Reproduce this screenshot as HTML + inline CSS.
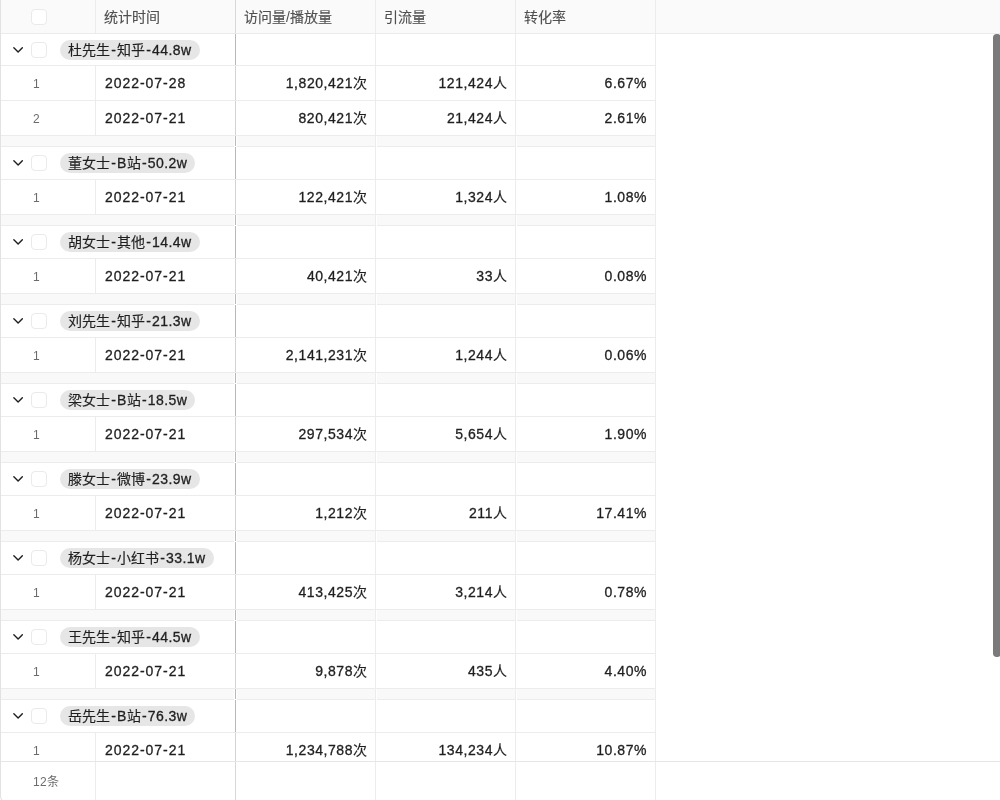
<!DOCTYPE html>
<html lang="zh-CN">
<head>
<meta charset="utf-8">
<title>数据统计</title>
<style>
*{box-sizing:border-box;margin:0;padding:0}
html,body{width:1000px;height:800px;overflow:hidden;background:#fff}
body{font-family:"Liberation Sans",sans-serif;font-size:14px;color:#1f1f1f;position:relative}
#grid{position:absolute;left:0;top:0;width:1000px;height:800px;overflow:hidden;background:#fff;will-change:transform}
.row{position:absolute;left:0;width:656px;border-bottom:1px solid #ececec;border-right:1px solid #ececec;background:#fff}
.grp{height:33px}
.dat{height:35px}
.sep{height:11px;background:#f9f9f9}
.c{position:absolute;top:0;bottom:0;border-left:1px solid #ececec}
.c1{left:95px;width:140px}
.c2{left:235px;width:140px}
.c3{left:375px;width:140px}
.c4{left:515px;width:140px}
.dat .c{line-height:34px;white-space:nowrap;-webkit-text-stroke:.3px #1f1f1f}
.dat .c1{padding-left:9px;letter-spacing:.95px}
.dat .c2,.dat .c3,.dat .c4{text-align:right;padding-right:8px;letter-spacing:.55px}
.u{display:inline-block;width:14px;text-align:center;letter-spacing:0;-webkit-text-stroke:.15px}
.n{position:absolute;left:33px;top:0;line-height:36px;font-size:12px;color:#6b6b6b}
.chev{position:absolute;left:12px;top:11px;width:12px;height:10px}
.cb{position:absolute;left:31px;width:16px;height:16px;border:1px solid #eaeaea;border-radius:4px;background:#fff}
.grp .cb{top:8px}
.pill{position:absolute;left:60px;top:6px;height:20px;border-radius:10px;background:#e6e6e6;line-height:20px;padding-left:8px;white-space:nowrap;overflow:hidden;letter-spacing:.45px;-webkit-text-stroke:.3px #1f1f1f}
.k{display:inline-block;text-align:center;letter-spacing:0;-webkit-text-stroke:.15px}
.h{display:inline-block;width:7px;text-align:center;letter-spacing:0}
.grp .c,.sep .c{border-left:1px solid #ececec}
.sep .c{bottom:-1px;box-shadow:inset 1px 0 0 #fff}
.sep .f{position:absolute;left:234px;top:0;bottom:-1px;width:3px;background:#fff}
#hdr{position:absolute;left:0;top:0;width:1000px;height:34px;background:#fafafa;border-bottom:1px solid #ebebeb;z-index:8;color:#505050}
#hdr .c{line-height:35px;padding-left:8px;white-space:nowrap}
#hdr .c5{left:655px;width:1px}
#hdr .cb{top:9px}
.fz{position:absolute;left:235px;top:0;bottom:0;width:1px;background:#d3d3d3;z-index:5}
.grp .fz,.sep .fz{background:#b9b9b9}
#hdr .fz,#ftr .fz{background:#d8d8d8}
#lb{position:absolute;left:0;top:-10px;width:40px;height:813px;border-left:1px solid #e2e2e2;border-bottom:1px solid #e2e2e2;border-bottom-left-radius:7px;z-index:9}
#ftr{position:absolute;left:0;top:761px;width:1000px;height:39px;background:#fff;border-top:1px solid #e6e6e6;z-index:8}
#ftr .c{border-left:1px solid #ececec}
#ftr .c5{left:655px;width:1px}
#ftr .cnt{position:absolute;left:33px;top:0;line-height:41px;font-size:12px;color:#6b6b6b;white-space:nowrap;letter-spacing:.4px}
#sb{position:absolute;left:993px;top:34px;width:7.5px;height:623px;border-radius:3.75px;background:#7a7a7a;z-index:9}
</style>
</head>
<body>
<div id="grid">
<div id="hdr"><span class="cb"></span><div class="c c1"><span class="k" style="width:56px">统计时间</span></div><div class="c c2"><span class="k" style="width:42px">访问量</span>/<span class="k" style="width:42px">播放量</span></div><div class="c c3"><span class="k" style="width:42px">引流量</span></div><div class="c c4"><span class="k" style="width:42px">转化率</span></div><div class="c c5"></div><div class="fz"></div></div>
<div class="row grp" style="top:34px;height:32px"><svg class="chev" viewBox="0 0 12 10"><path d="M1.85 2.65 L6.1 6.9 L10.35 2.65" fill="none" stroke="#1f1f1f" stroke-width="1.4" stroke-linecap="round" stroke-linejoin="round"/></svg><span class="cb"></span><span class="pill" style="width:140px"><span class="k" style="width:42px">杜先生</span><span class="h">-</span><span class="k" style="width:28px">知乎</span><span class="h">-</span>44.8w</span><div class="c c3"></div><div class="c c4"></div><div class="fz"></div></div>
<div class="row dat" style="top:66px"><span class="n">1</span><div class="c c1">2022-07-28</div><div class="c c2">1,820,421<span class="u">次</span></div><div class="c c3">121,424<span class="u">人</span></div><div class="c c4">6.67%</div><div class="fz"></div></div>
<div class="row dat" style="top:101px"><span class="n">2</span><div class="c c1">2022-07-21</div><div class="c c2">820,421<span class="u">次</span></div><div class="c c3">21,424<span class="u">人</span></div><div class="c c4">2.61%</div><div class="fz"></div></div>
<div class="row sep" style="top:136px"><div class="f"></div><div class="c c3"></div><div class="c c4"></div><div class="fz"></div></div>
<div class="row grp" style="top:147px;height:33px"><svg class="chev" viewBox="0 0 12 10"><path d="M1.85 2.65 L6.1 6.9 L10.35 2.65" fill="none" stroke="#1f1f1f" stroke-width="1.4" stroke-linecap="round" stroke-linejoin="round"/></svg><span class="cb"></span><span class="pill" style="width:134.5px"><span class="k" style="width:42px">董女士</span><span class="h">-</span>B<span class="k" style="width:14px">站</span><span class="h">-</span>50.2w</span><div class="c c3"></div><div class="c c4"></div><div class="fz"></div></div>
<div class="row dat" style="top:180px"><span class="n">1</span><div class="c c1">2022-07-21</div><div class="c c2">122,421<span class="u">次</span></div><div class="c c3">1,324<span class="u">人</span></div><div class="c c4">1.08%</div><div class="fz"></div></div>
<div class="row sep" style="top:215px"><div class="f"></div><div class="c c3"></div><div class="c c4"></div><div class="fz"></div></div>
<div class="row grp" style="top:226px;height:33px"><svg class="chev" viewBox="0 0 12 10"><path d="M1.85 2.65 L6.1 6.9 L10.35 2.65" fill="none" stroke="#1f1f1f" stroke-width="1.4" stroke-linecap="round" stroke-linejoin="round"/></svg><span class="cb"></span><span class="pill" style="width:140px"><span class="k" style="width:42px">胡女士</span><span class="h">-</span><span class="k" style="width:28px">其他</span><span class="h">-</span>14.4w</span><div class="c c3"></div><div class="c c4"></div><div class="fz"></div></div>
<div class="row dat" style="top:259px"><span class="n">1</span><div class="c c1">2022-07-21</div><div class="c c2">40,421<span class="u">次</span></div><div class="c c3">33<span class="u">人</span></div><div class="c c4">0.08%</div><div class="fz"></div></div>
<div class="row sep" style="top:294px"><div class="f"></div><div class="c c3"></div><div class="c c4"></div><div class="fz"></div></div>
<div class="row grp" style="top:305px;height:33px"><svg class="chev" viewBox="0 0 12 10"><path d="M1.85 2.65 L6.1 6.9 L10.35 2.65" fill="none" stroke="#1f1f1f" stroke-width="1.4" stroke-linecap="round" stroke-linejoin="round"/></svg><span class="cb"></span><span class="pill" style="width:140px"><span class="k" style="width:42px">刘先生</span><span class="h">-</span><span class="k" style="width:28px">知乎</span><span class="h">-</span>21.3w</span><div class="c c3"></div><div class="c c4"></div><div class="fz"></div></div>
<div class="row dat" style="top:338px"><span class="n">1</span><div class="c c1">2022-07-21</div><div class="c c2">2,141,231<span class="u">次</span></div><div class="c c3">1,244<span class="u">人</span></div><div class="c c4">0.06%</div><div class="fz"></div></div>
<div class="row sep" style="top:373px"><div class="f"></div><div class="c c3"></div><div class="c c4"></div><div class="fz"></div></div>
<div class="row grp" style="top:384px;height:33px"><svg class="chev" viewBox="0 0 12 10"><path d="M1.85 2.65 L6.1 6.9 L10.35 2.65" fill="none" stroke="#1f1f1f" stroke-width="1.4" stroke-linecap="round" stroke-linejoin="round"/></svg><span class="cb"></span><span class="pill" style="width:134.5px"><span class="k" style="width:42px">梁女士</span><span class="h">-</span>B<span class="k" style="width:14px">站</span><span class="h">-</span>18.5w</span><div class="c c3"></div><div class="c c4"></div><div class="fz"></div></div>
<div class="row dat" style="top:417px"><span class="n">1</span><div class="c c1">2022-07-21</div><div class="c c2">297,534<span class="u">次</span></div><div class="c c3">5,654<span class="u">人</span></div><div class="c c4">1.90%</div><div class="fz"></div></div>
<div class="row sep" style="top:452px"><div class="f"></div><div class="c c3"></div><div class="c c4"></div><div class="fz"></div></div>
<div class="row grp" style="top:463px;height:33px"><svg class="chev" viewBox="0 0 12 10"><path d="M1.85 2.65 L6.1 6.9 L10.35 2.65" fill="none" stroke="#1f1f1f" stroke-width="1.4" stroke-linecap="round" stroke-linejoin="round"/></svg><span class="cb"></span><span class="pill" style="width:140px"><span class="k" style="width:42px">滕女士</span><span class="h">-</span><span class="k" style="width:28px">微博</span><span class="h">-</span>23.9w</span><div class="c c3"></div><div class="c c4"></div><div class="fz"></div></div>
<div class="row dat" style="top:496px"><span class="n">1</span><div class="c c1">2022-07-21</div><div class="c c2">1,212<span class="u">次</span></div><div class="c c3">211<span class="u">人</span></div><div class="c c4">17.41%</div><div class="fz"></div></div>
<div class="row sep" style="top:531px"><div class="f"></div><div class="c c3"></div><div class="c c4"></div><div class="fz"></div></div>
<div class="row grp" style="top:542px;height:33px"><svg class="chev" viewBox="0 0 12 10"><path d="M1.85 2.65 L6.1 6.9 L10.35 2.65" fill="none" stroke="#1f1f1f" stroke-width="1.4" stroke-linecap="round" stroke-linejoin="round"/></svg><span class="cb"></span><span class="pill" style="width:154px"><span class="k" style="width:42px">杨女士</span><span class="h">-</span><span class="k" style="width:42px">小红书</span><span class="h">-</span>33.1w</span><div class="c c3"></div><div class="c c4"></div><div class="fz"></div></div>
<div class="row dat" style="top:575px"><span class="n">1</span><div class="c c1">2022-07-21</div><div class="c c2">413,425<span class="u">次</span></div><div class="c c3">3,214<span class="u">人</span></div><div class="c c4">0.78%</div><div class="fz"></div></div>
<div class="row sep" style="top:610px"><div class="f"></div><div class="c c3"></div><div class="c c4"></div><div class="fz"></div></div>
<div class="row grp" style="top:621px;height:33px"><svg class="chev" viewBox="0 0 12 10"><path d="M1.85 2.65 L6.1 6.9 L10.35 2.65" fill="none" stroke="#1f1f1f" stroke-width="1.4" stroke-linecap="round" stroke-linejoin="round"/></svg><span class="cb"></span><span class="pill" style="width:140px"><span class="k" style="width:42px">王先生</span><span class="h">-</span><span class="k" style="width:28px">知乎</span><span class="h">-</span>44.5w</span><div class="c c3"></div><div class="c c4"></div><div class="fz"></div></div>
<div class="row dat" style="top:654px"><span class="n">1</span><div class="c c1">2022-07-21</div><div class="c c2">9,878<span class="u">次</span></div><div class="c c3">435<span class="u">人</span></div><div class="c c4">4.40%</div><div class="fz"></div></div>
<div class="row sep" style="top:689px"><div class="f"></div><div class="c c3"></div><div class="c c4"></div><div class="fz"></div></div>
<div class="row grp" style="top:700px;height:33px"><svg class="chev" viewBox="0 0 12 10"><path d="M1.85 2.65 L6.1 6.9 L10.35 2.65" fill="none" stroke="#1f1f1f" stroke-width="1.4" stroke-linecap="round" stroke-linejoin="round"/></svg><span class="cb"></span><span class="pill" style="width:134.5px"><span class="k" style="width:42px">岳先生</span><span class="h">-</span>B<span class="k" style="width:14px">站</span><span class="h">-</span>76.3w</span><div class="c c3"></div><div class="c c4"></div><div class="fz"></div></div>
<div class="row dat" style="top:733px"><span class="n">1</span><div class="c c1">2022-07-21</div><div class="c c2">1,234,788<span class="u">次</span></div><div class="c c3">134,234<span class="u">人</span></div><div class="c c4">10.87%</div><div class="fz"></div></div>
<div id="ftr"><span class="cnt">12条</span><div class="c c1"></div><div class="c c2"></div><div class="c c3"></div><div class="c c4"></div><div class="c c5"></div><div class="fz"></div></div>
<div id="lb"></div>
<div id="sb"></div>
</div>
</body>
</html>
